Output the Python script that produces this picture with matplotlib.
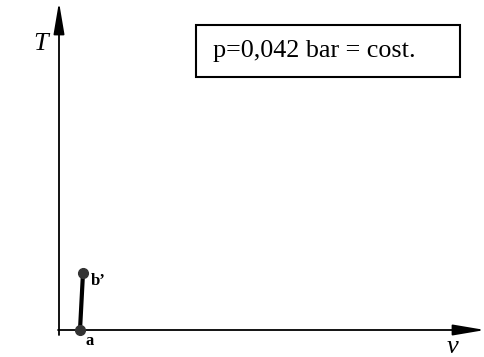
import matplotlib.pyplot as plt
from matplotlib.patches import Rectangle

# state points (v, T), arbitrary units
labels = ["a", "b\u2019"]
v_vals = [21, 24]
T_vals = [0, 57]
box_text = "p=0,042 bar = cost."

plt.rcParams['font.family'] = ['Liberation Serif', 'DejaVu Serif']

fig = plt.figure(figsize=(4.84, 3.57), dpi=100)
ax = fig.add_axes([0, 0, 1, 1])
ax.set_xlim(-59, 425)
ax.set_ylim(-27, 330)
ax.axis('off')

# assi con frecce
arrow = dict(arrowstyle='-|>,head_length=1.95,head_width=0.33', color='black',
             lw=1.3, shrinkA=0, shrinkB=0, mutation_scale=10)
ax.annotate('', xy=(0, 328), xytext=(0, -5), arrowprops=arrow, annotation_clip=False)
ax.annotate('', xy=(426, 0), xytext=(-1, 0), arrowprops=arrow, annotation_clip=False)

ax.text(-18, 286, 'T', fontsize=19, style='italic', ha='center', va='center')
ax.text(394, -17, 'v', fontsize=19, style='italic', ha='center', va='center')

# trasformazione a -> b'
ax.plot(v_vals, T_vals, color='black', lw=3, solid_capstyle='round', zorder=3)
ax.plot(v_vals, T_vals, 'o', color='#333333', ms=7, zorder=4)

ax.text(v_vals[0] + 10, T_vals[0] - 11, labels[0], fontsize=12, fontweight='bold',
        ha='center', va='center')
ax.text(v_vals[1] + 8, T_vals[1] - 8, labels[1], fontsize=12, fontweight='bold',
        ha='left', va='center')

# riquadro con la condizione
ax.add_patch(Rectangle((137, 253), 264, 52, fill=False, lw=1.5, edgecolor='black'))
ax.text(154, 279, box_text, fontsize=18.8, ha='left', va='center')

fig.savefig('out.png', dpi=100)
